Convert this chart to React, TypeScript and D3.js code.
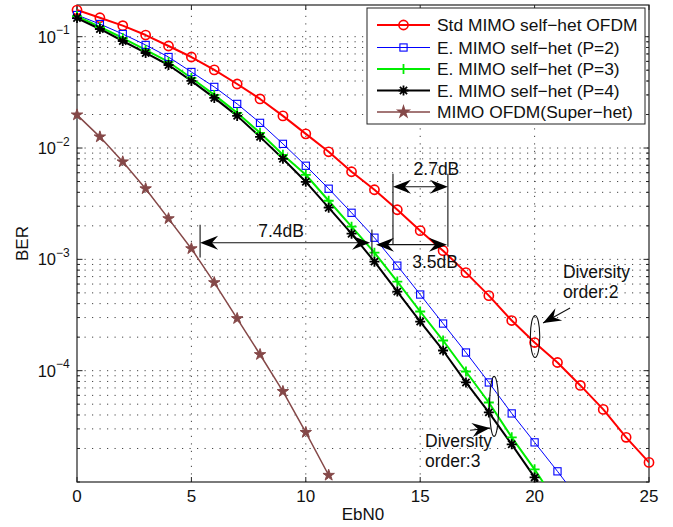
import React from 'react';
import * as d3 from 'd3';

// BER vs EbN0 — MATLAB-style semilog plot, five receiver variants.

const W = 673;
const H = 527;
const PLOT = { left: 77, right: 649, top: 5, bottom: 482 };

const EBN0 = [0, 1, 2, 3, 4, 5, 6, 7, 8, 9, 10, 11, 12, 13, 14, 15, 16, 17, 18, 19, 20, 21, 22, 23, 24, 25];

const STD_MIMO = [0.1736, 0.148, 0.1256, 0.1035, 0.0825, 0.0657, 0.0503, 0.0376, 0.0276, 0.01944, 0.01341, 0.00925, 0.00612, 0.00422, 0.00279, 0.00181, 0.001197, 0.00076, 0.000472, 0.000282, 0.000179, 0.0001184, 7.37e-5, 4.49e-5, 2.52e-5, 1.5e-5];
const E_MIMO_P2 = [0.1565, 0.13, 0.1057, 0.0843, 0.0657, 0.0482, 0.0354, 0.0249, 0.01683, 0.0109, 0.00693, 0.00431, 0.00262, 0.001565, 0.000878, 0.000483, 0.000265, 0.0001456, 7.84e-5, 4.13e-5, 2.27e-5, 1.247e-5, 6.7e-6];
const E_MIMO_P3 = [0.1533, 0.1222, 0.0973, 0.076, 0.0593, 0.0426, 0.03, 0.0207, 0.01369, 0.00869, 0.00575, 0.00336, 0.001965, 0.001149, 0.000631, 0.00034, 0.0001866, 9.83e-5, 5.18e-5, 2.52e-5, 1.3e-5, 6.3e-6];
const E_MIMO_P4 = [0.1471, 0.1173, 0.0915, 0.0714, 0.0557, 0.0401, 0.0282, 0.01944, 0.0126, 0.008, 0.00497, 0.00291, 0.0017, 0.000954, 0.000513, 0.000276, 0.0001518, 7.84e-5, 4.22e-5, 2.18e-5, 1.1e-5, 5.1e-6];
const SUPER_HET = [0.01985, 0.0126, 0.00752, 0.00431, 0.00232, 0.001247, 0.000618, 0.000294, 0.0001397, 6.51e-5, 2.79e-5, 1.15e-5];

const SERIES = [
  { name: 'Std MIMO self\u2212het OFDM', values: STD_MIMO, color: '#ff0000', width: 2, marker: 'circle' },
  { name: 'E. MIMO self\u2212het (P=2)', values: E_MIMO_P2, color: '#0000ff', width: 1, marker: 'square' },
  { name: 'E. MIMO self\u2212het (P=3)', values: E_MIMO_P3, color: '#00ee00', width: 2, marker: 'plus' },
  { name: 'E. MIMO self\u2212het (P=4)', values: E_MIMO_P4, color: '#000000', width: 2, marker: 'asterisk' },
  { name: 'MIMO OFDM(Super\u2212het)', values: SUPER_HET, color: '#854848', width: 1.5, marker: 'star' },
];

const X_TICKS = [0, 5, 10, 15, 20, 25];
const X_GRID = [5, 10, 15, 20];
const Y_DECADES = [1e-1, 1e-2, 1e-3, 1e-4];
const Y_EXPONENTS = ['\u22121', '\u22122', '\u22123', '\u22124'];

// annotation geometry, in data units
const SPAN_MARKS = [
  { x: 5.38, y0: 2.05e-3, y1: 1.04e-3 },
  { x: 12.89, y0: 1.85e-3, y1: 1.06e-3 },
  { x: 13.81, y0: 5.87e-3, y1: 1.355e-3 },
  { x: 16.21, y0: 5.87e-3, y1: 1.3e-3 },
];
const GAP_ARROWS = [
  { x0: 5.38, x1: 12.81, y: 1.41e-3, label: '7.4dB', lx: 8.92, ly: 1.6e-3 },
  { x0: 13.07, x1: 16.17, y: 1.355e-3, label: '3.5dB', lx: 15.65, ly: 8.3e-4 },
  { x0: 13.81, x1: 16.21, y: 4.49e-3, label: '2.7dB', lx: 15.71, ly: 5.75e-3 },
];
const DIVERSITY = [
  { cx: 20.02, cy: 2.03e-4, rx: 4.7, ry: 21, ax0: 21.55, ay0: 3.65e-4, ax1: 20.37, ay1: 2.68e-4, tx: 21.24, ty: [6.84e-4, 4.53e-4], lines: ['Diversity', 'order:2'] },
  { cx: 18.23, cy: 4.78e-5, rx: 4.5, ry: 30, ax0: 17.18, ay0: 2.92e-5, ax1: 18.05, ay1: 3.05e-5, tx: 15.21, ty: [2.05e-5, 1.35e-5], lines: ['Diversity', 'order:3'] },
];

const FONT = 'Liberation Sans, Arial, Helvetica, sans-serif';

const x = d3.scaleLinear().domain([0, 25]).range([PLOT.left, PLOT.right]);
const y = d3.scaleLog().domain([1e-5, 1e-1]).range([PLOT.bottom, 36.7]);

function arrowHead(tx: number, ty: number, fx: number, fy: number) {
  const a = Math.atan2(ty - fy, tx - fx);
  const L = 18;
  const hw = 7;
  const pts = [
    [0, 0],
    [-L, -hw],
    [-L * 0.66, 0],
    [-L, hw],
  ].map(([px, py]) => [tx + px * Math.cos(a) - py * Math.sin(a), ty + px * Math.sin(a) + py * Math.cos(a)]);
  return `M${pts.map((p) => p.join(',')).join('L')}Z`;
}

function Marker({ type, cx, cy, color }: { type: string; cx: number; cy: number; color: string }) {
  if (type === 'circle') return <circle cx={cx} cy={cy} r={4.6} fill="none" stroke={color} strokeWidth={1.6} />;
  if (type === 'square')
    return <rect x={cx - 3.6} y={cy - 3.6} width={7.2} height={7.2} fill="none" stroke={color} strokeWidth={1.1} />;
  if (type === 'plus') {
    const s = 5;
    return <path d={`M${cx - s},${cy}H${cx + s}M${cx},${cy - s}V${cy + s}`} stroke={color} strokeWidth={1.8} />;
  }
  if (type === 'asterisk') {
    const s = 5;
    const d = 3.6;
    return (
      <path
        d={`M${cx - s},${cy}H${cx + s}M${cx},${cy - s}V${cy + s}M${cx - d},${cy - d}L${cx + d},${cy + d}M${cx - d},${cy + d}L${cx + d},${cy - d}`}
        stroke={color}
        strokeWidth={1.8}
      />
    );
  }
  const star = d3.symbol().type(d3.symbolStar).size(36 / 0.8908)();
  return <path d={star ?? ''} transform={`translate(${cx},${cy})`} fill={color} stroke={color} strokeWidth={1} />;
}

export default function App() {
  const minorTicks: number[] = [];
  for (const dec of [1e-5, 1e-4, 1e-3, 1e-2, 1e-1]) {
    for (let k = 1; k <= 9; k++) {
      const v = dec * k;
      if (y(v) >= PLOT.top && y(v) <= PLOT.bottom) minorTicks.push(v);
    }
  }
  const line = d3
    .line<number>()
    .x((_, i) => x(EBN0[i]))
    .y((v) => y(v));

  const legendRows = [25, 47.5, 69, 90.5, 112];

  return (
    <svg width={W} height={H} style={{ position: 'absolute', left: 0, top: 0, background: '#fff' }} fontFamily={FONT}>
      <defs>
        <clipPath id="plot-clip">
          <rect x={PLOT.left} y={PLOT.top} width={PLOT.right - PLOT.left} height={PLOT.bottom - PLOT.top} />
        </clipPath>
      </defs>
      <rect x={PLOT.left} y={PLOT.top} width={PLOT.right - PLOT.left} height={PLOT.bottom - PLOT.top} fill="#fff" />

      {/* dotted grid */}
      <g stroke="#444" strokeWidth={1} strokeDasharray="1.2,6.3">
        {minorTicks
          .filter((v) => y(v) < PLOT.bottom - 1)
          .map((v) => (
            <line key={`hg-${v}`} x1={PLOT.left} x2={PLOT.right} y1={y(v)} y2={y(v)} />
          ))}
        {X_GRID.map((v) => (
          <line key={`vg-${v}`} x1={x(v)} x2={x(v)} y1={PLOT.bottom} y2={PLOT.top} />
        ))}
      </g>

      {/* frame and ticks */}
      <rect x={PLOT.left} y={PLOT.top} width={PLOT.right - PLOT.left} height={PLOT.bottom - PLOT.top} fill="none" stroke="#222" strokeWidth={1.2} />
      <g stroke="#222" strokeWidth={1}>
        {X_TICKS.map((v) => (
          <g key={`xt-${v}`}>
            <line x1={x(v)} x2={x(v)} y1={PLOT.bottom} y2={PLOT.bottom - 5} />
            <line x1={x(v)} x2={x(v)} y1={PLOT.top} y2={PLOT.top + 5} />
          </g>
        ))}
        {minorTicks.map((v) => {
          const len = Y_DECADES.includes(v) ? 5.5 : 3;
          return (
            <g key={`yt-${v}`}>
              <line x1={PLOT.left} x2={PLOT.left + len} y1={y(v)} y2={y(v)} />
              <line x1={PLOT.right} x2={PLOT.right - len} y1={y(v)} y2={y(v)} />
            </g>
          );
        })}
      </g>

      {/* tick labels */}
      <g fontSize={17} fill="#111">
        {X_TICKS.map((v) => (
          <text key={`xl-${v}`} x={x(v)} y={502} textAnchor="middle">
            {v}
          </text>
        ))}
      </g>
      <g fill="#111">
        {Y_DECADES.map((v, i) => (
          <g key={`yl-${v}`}>
            <text x={56} y={y(v) + 6} textAnchor="end" fontSize={16.5}>
              10
            </text>
            <text x={56} y={y(v) - 2.5} fontSize={12}>
              {Y_EXPONENTS[i]}
            </text>
          </g>
        ))}
      </g>
      <text x={(PLOT.left + PLOT.right) / 2} y={520} textAnchor="middle" fontSize={17} fill="#111">
        EbN0
      </text>
      <text transform={`translate(28,${(PLOT.top + PLOT.bottom) / 2}) rotate(-90)`} textAnchor="middle" fontSize={17} fill="#111">
        BER
      </text>

      {/* series */}
      <g clipPath="url(#plot-clip)" fill="none">
        {SERIES.map((s) => (
          <path key={`ln-${s.name}`} d={line(s.values) ?? ''} stroke={s.color} strokeWidth={s.width} strokeLinejoin="round" />
        ))}
      </g>
      {SERIES.map((s) => (
        <g key={`mk-${s.name}`}>
          {s.values.map((v, i) =>
            v >= 1e-5 ? <Marker key={i} type={s.marker} cx={x(EBN0[i])} cy={y(v)} color={s.color} /> : null,
          )}
        </g>
      ))}

      {/* dB gap annotations */}
      <g stroke="#111" strokeWidth={1.1} fill="none">
        {SPAN_MARKS.map((m) => (
          <line key={`sm-${m.x}`} x1={x(m.x)} x2={x(m.x)} y1={y(m.y0)} y2={y(m.y1)} />
        ))}
      </g>
      {GAP_ARROWS.map((a) => {
        const xa = x(a.x0);
        const xb = x(a.x1);
        const ya = y(a.y);
        return (
          <g key={a.label}>
            <line x1={xa + 8} x2={xb - 8} y1={ya} y2={ya} stroke="#111" strokeWidth={1.1} />
            <path d={arrowHead(xa, ya, xb, ya)} fill="#000" />
            <path d={arrowHead(xb, ya, xa, ya)} fill="#000" />
            <text x={x(a.lx)} y={y(a.ly)} textAnchor="middle" fontSize={17.5} fill="#111">
              {a.label}
            </text>
          </g>
        );
      })}

      {/* diversity order annotations */}
      {DIVERSITY.map((d) => {
        const x0 = x(d.ax0);
        const y0 = y(d.ay0);
        const x1 = x(d.ax1);
        const y1 = y(d.ay1);
        return (
          <g key={d.lines[1]}>
            <ellipse cx={x(d.cx)} cy={y(d.cy)} rx={d.rx} ry={d.ry} fill="none" stroke="#111" strokeWidth={1.1} />
            <line x1={x0} y1={y0} x2={x1} y2={y1} stroke="#111" strokeWidth={1.1} />
            <path d={arrowHead(x1, y1, x0, y0)} fill="#000" />
            {d.lines.map((t, i) => (
              <text key={t} x={x(d.tx)} y={y(d.ty[i])} fontSize={17.5} fill="#111">
                {t}
              </text>
            ))}
          </g>
        );
      })}

      {/* legend */}
      <g>
        <rect x={367} y={8} width={278} height={116} fill="#fff" stroke="#222" strokeWidth={1} />
        {SERIES.map((s, i) => {
          const ry = legendRows[i];
          return (
            <g key={`lg-${s.name}`}>
              <line x1={377} x2={430} y1={ry} y2={ry} stroke={s.color} strokeWidth={s.width} />
              {s.marker === 'star' ? (
                <path
                  d={d3.symbol().type(d3.symbolStar).size(64 / 0.8908)() ?? ''}
                  transform={`translate(403.5,${ry})`}
                  fill={s.color}
                />
              ) : (
                <Marker type={s.marker} cx={403.5} cy={ry} color={s.color} />
              )}
              <text x={437} y={ry + 6} fontSize={17.4} fill="#111">
                {s.name}
              </text>
            </g>
          );
        })}
      </g>
    </svg>
  );
}
